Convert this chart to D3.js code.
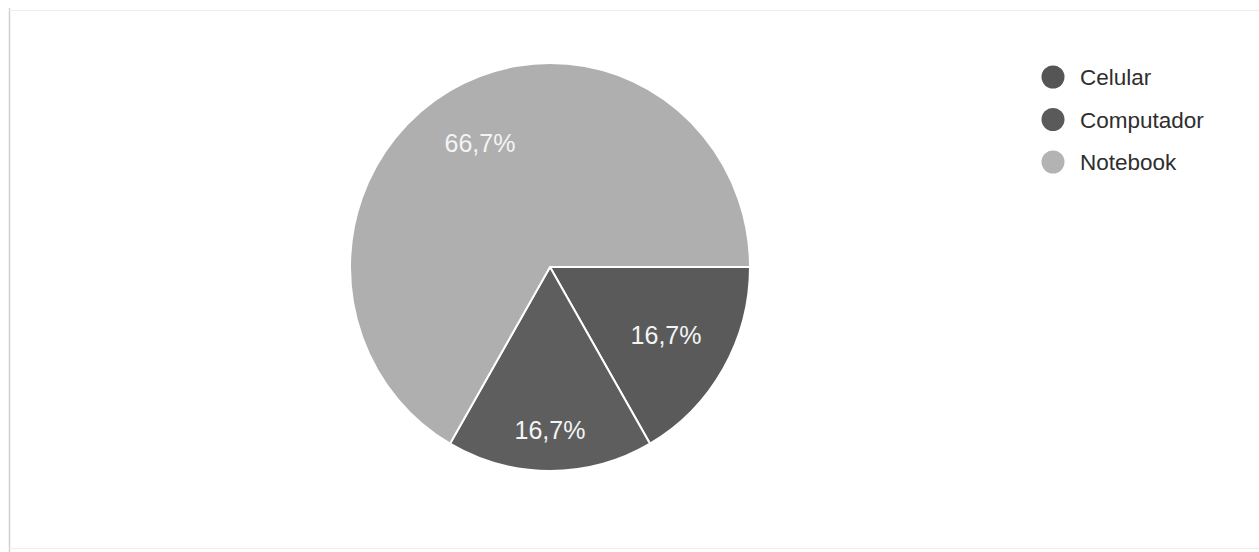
<!DOCTYPE html>
<html>
<head>
<meta charset="utf-8">
<script src="https://cdn.jsdelivr.net/npm/d3@7"></script>
<style>
  html, body { margin: 0; padding: 0; background: #fff; }
  svg { display: block; font-family: "Liberation Sans", Arial, sans-serif; }
</style>
</head>
<body>
<svg id="chart" width="1259" height="552"></svg>
<script>
const categories = ["Celular", "Computador", "Notebook"];
const values = [1, 1, 4];
const colors = ["#5a5a5a", "#5e5e5e", "#afafaf"];
const legendColors = ["#555555", "#5a5a5a", "#b3b3b3"];

const svg = d3.select("#chart");
const W = 1259, H = 552;

// faint frame of the printed page
svg.append("line").attr("x1", 9.5).attr("x2", 9.5).attr("y1", 8).attr("y2", 552)
  .attr("stroke", "#cfcfcf").attr("stroke-width", 1.5);
svg.append("line").attr("x1", 9).attr("x2", W).attr("y1", 10.5).attr("y2", 10.5)
  .attr("stroke", "#ececec").attr("stroke-width", 1);
svg.append("line").attr("x1", 9).attr("x2", W).attr("y1", 548.5).attr("y2", 548.5)
  .attr("stroke", "#ececec").attr("stroke-width", 1);

const cx = 550, cy = 267, r = 200;
const total = d3.sum(values);
const data = categories.map((c, i) => ({ cat: c, value: values[i], i }));

const pie = d3.pie().value(d => d.value).sort(null)
  .startAngle(Math.PI / 2).endAngle(Math.PI / 2 + 2 * Math.PI);
const arcs = pie(data);
const arc = d3.arc().innerRadius(0).outerRadius(r);

const g = svg.append("g").attr("transform", `translate(${cx},${cy}) scale(1,1.02)`);
g.selectAll("path.slice").data(arcs).join("path")
  .attr("class", "slice")
  .attr("d", arc)
  .attr("fill", d => colors[d.data.i])
  .attr("stroke", "#ffffff")
  .attr("stroke-width", 2);

const labelFactor = [0.67, 0.80, 0.70];
const fmt = v => (v / total * 100).toFixed(1).replace(".", ",") + "%";
g.selectAll("text.lbl").data(arcs).join("text")
  .attr("class", "lbl")
  .attr("transform", d => {
    const lr = r * labelFactor[d.data.i];
    const c = d3.arc().innerRadius(lr).outerRadius(lr).centroid(d);
    return `translate(${c[0]},${c[1]}) scale(1,${1/1.02})`;
  })
  .attr("text-anchor", "middle")
  .attr("dy", "0.35em")
  .attr("fill", "#f4f4f4")
  .attr("font-size", 25)
  .text(d => fmt(d.data.value));

// legend
const legY = d3.scalePoint().domain(categories).range([77, 162]);
const leg = svg.append("g");
const items = leg.selectAll("g").data(categories).join("g")
  .attr("transform", d => `translate(1053,${legY(d)})`);
items.append("circle").attr("r", 11.5).attr("fill", (d, i) => legendColors[i]);
items.append("text").attr("x", 27).attr("dy", "0.36em")
  .attr("font-size", 22.5).attr("fill", "#2e2e2e")
  .text(d => d);
</script>
</body>
</html>
